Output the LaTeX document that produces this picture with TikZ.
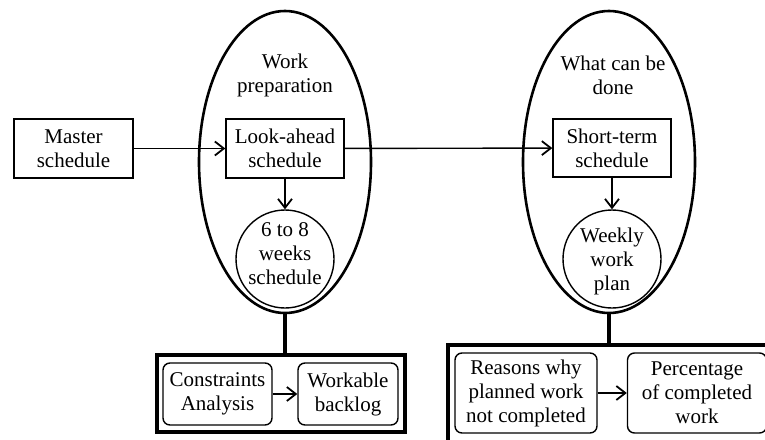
\documentclass[tikz,border=0pt]{standalone}
\usepackage{fontspec}
\setmainfont{Liberation Serif}
\usepackage{tikz}
\usetikzlibrary{arrows.meta,shapes.geometric,positioning,calc}

\begin{document}
\begin{tikzpicture}[x=1pt,y=-1pt,font=\fontsize{21}{24}\selectfont,
  box/.style={draw,line width=1.4pt,align=center,inner sep=0pt},
  rbox/.style={draw,line width=1.4pt,rounded corners=7pt,align=center,inner sep=0pt},
  bubble/.style={draw,circle,line width=1.4pt,minimum size=98pt,inner sep=0pt},
  oval/.style={draw,ellipse,line width=2.6pt,minimum width=172pt,minimum height=302pt,inner sep=0pt},
  frame/.style={draw,line width=3.4pt,inner sep=0pt},
  arr/.style={line width=1.4pt,-{Straight Barb[length=9pt,width=14pt,line width=1.8pt]}}]
\useasboundingbox (0,0) rectangle (765,439);
\node[oval] (prep) at (285,162) {};
\node[oval] (done) at (609,162) {};
\node[align=center] (prept) at (285,75) {Work\\preparation};
\node[align=center] (donet) at (613,75) {What can be\\done};
\node[box,minimum width=119pt,minimum height=59pt] (ms) at (73.5,148.5) {Master\\schedule};
\node[box,minimum width=118pt,minimum height=59pt] (la) at (285,148.5) {Look-ahead\\schedule};
\node[box,minimum width=118pt,minimum height=58pt] (st) at (612,148) {Short-term\\schedule};
\node[bubble] (six) at (285,259) {};
\node[align=center] (sixt) at (285,254) {6 to 8\\weeks\\schedule};
\node[bubble] (wk) at (612,259) {};
\node[align=center] (wkt) at (612,261) {Weekly\\work\\plan};
% bottom frames
\node[frame,minimum width=248pt,minimum height=77pt] (lbox) at (281,393.5) {};
\node[frame,minimum width=330pt,minimum height=100pt] (rbox) at (613,395) {};
\node[rbox,minimum width=109pt,minimum height=62pt] (ca) at (217.5,394) {Constraints\\Analysis};
\node[rbox,minimum width=100pt,minimum height=62pt] (wb) at (348,394) {Workable\\backlog};
\node[rbox,minimum width=142pt,minimum height=80pt] (rw) at (526,393) {Reasons why\\planned work\\not completed};
\node[rbox,minimum width=139pt,minimum height=80pt] (pc) at (697,393) {Percentage\\of completed\\work};
\draw[arr] (ms) -- (la);
\draw[arr] (la) -- (st);
\draw[arr] (la) -- (six);
\draw[arr] (st) -- (wk);
\draw[arr] (ca) -- (wb);
\draw[arr] (rw) -- (pc);
\draw[line width=3.4pt] (prep.south) -- (prep.south |- lbox.north);
\draw[line width=3.4pt] (done.south) -- (done.south |- rbox.north);
\end{tikzpicture}
\end{document}
